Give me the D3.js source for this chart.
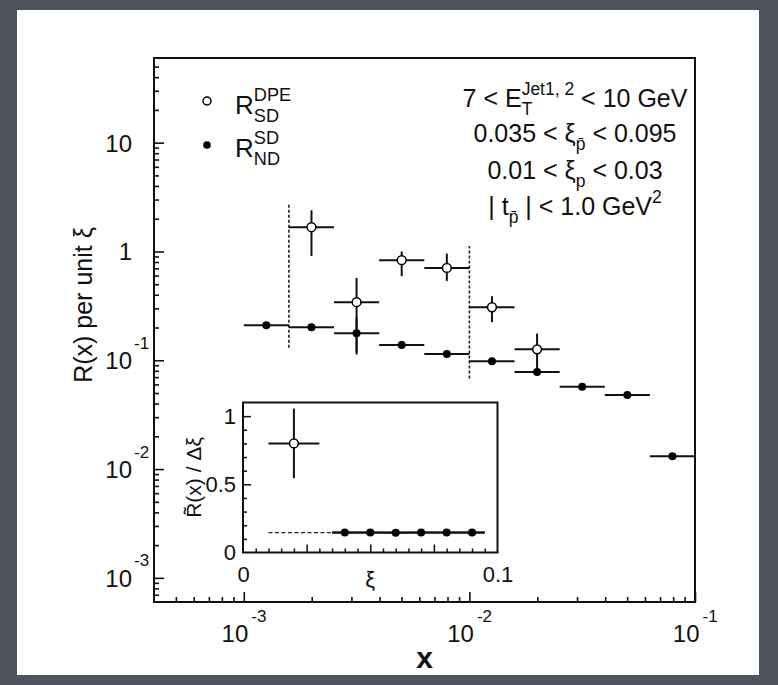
<!DOCTYPE html>
<html>
<head>
<meta charset="utf-8">
<script src="https://cdn.jsdelivr.net/npm/d3@7"></script>
<style>
  body { margin: 0; background: #4e535d; }
  svg text { font-family: "Liberation Sans", Arial, Helvetica, sans-serif; fill: #111; white-space: pre; }
</style>
</head>
<body>
<svg id="chart"></svg>
<script>
// ---- Data ----
// x bins, log-spaced (0.2 decade each)
const xEdges = [0.001, 0.001585, 0.002512, 0.003981, 0.00631, 0.01, 0.01585, 0.02512, 0.03981, 0.0631, 0.1];

// R_ND^SD, one value per bin
const ndValues = [0.210, 0.201, 0.177, 0.138, 0.114, 0.098, 0.078, 0.057, 0.048, 0.0131];
const ndLow    = [null, null, 0.113, null, null, null, null, null, null, null];
const ndHigh   = [null, null, 0.245, null, null, null, null, null, null, null];

// R_SD^DPE, bins 1..6
const dpeBins   = [1, 2, 3, 4, 5, 6];
const dpeValues = [1.67, 0.342, 0.832, 0.706, 0.307, 0.126];
const dpeLow    = [0.91, 0.12, 0.593, 0.536, 0.224, 0.077];
const dpeHigh   = [2.39, 0.571, 1.0, 0.957, 0.388, 0.176];

// dashed verticals marking the xi range
const dashX    = [0.001585, 0.01];
const dashLow  = [0.13, 0.068];
const dashHigh = [2.8, 1.12];

// inset: R~(x) / delta xi vs xi
const insetOpenX = [0.02], insetOpenY = [0.80], insetOpenLow = [0.545], insetOpenHigh = [1.055];
const insetFilledX = [0.04, 0.05, 0.06, 0.07, 0.08, 0.09];
const insetFilledY = [0.146, 0.146, 0.145, 0.146, 0.146, 0.146];
const insetFit = 0.146;
const insetFitDashed = [0.01, 0.035];
const insetFitSolid = [0.035, 0.095];

// tick labels
const xMajor = [0.001, 0.01, 0.1];
const xMajorLabels = [["10", "-3"], ["10", "-2"], ["10", "-1"]];
const yMajor = [10, 1, 0.1, 0.01, 0.001];
const yMajorLabels = [["10", ""], ["1", ""], ["10", "-1"], ["10", "-2"], ["10", "-3"]];

// ---- Layout ----
const width = 778, height = 685;
const frame = { left: 154, right: 695, top: 58, bottom: 602 };
const inset = { left: 243, right: 497.5, top: 402.5, bottom: 552.5 };

const svg = d3.select("#chart")
    .attr("width", width)
    .attr("height", height);

svg.append("rect").attr("width", width).attr("height", height).attr("fill", "#4e535d");
svg.append("rect")
    .attr("x", 17).attr("y", 10)
    .attr("width", 742).attr("height", 665)
    .attr("fill", "white");

const xScale = d3.scaleLog().domain([4e-4, 0.1]).range([frame.left, frame.right]);
const yScale = d3.scaleLog().domain([6e-4, 60]).range([frame.bottom, frame.top]);

// minor log ticks (2..9 in every decade)
function minorTicks(lo, hi) {
    const out = [];
    for (let e = -5; e <= 2; e++) {
        for (let m = 2; m <= 9; m++) {
            const v = m * Math.pow(10, e);
            if (v > lo * 1.0001 && v < hi * 0.9999) out.push(v);
        }
    }
    return out;
}

// ---- Axes ----
const gx = svg.append("g").attr("transform", `translate(0,${frame.bottom})`);
gx.append("g").call(d3.axisBottom(xScale).tickValues(minorTicks(4e-4, 0.1)).tickSize(-5).tickFormat(""));
gx.append("g").attr("class", "xmaj").call(d3.axisBottom(xScale).tickValues(xMajor).tickSize(-10).tickFormat(""));

gx.selectAll(".xmaj .tick").each(function(d, i) {
    const t = d3.select(this);
    t.append("text").attr("x", 4).attr("y", 39.5)
        .attr("text-anchor", "end").style("font-size", "24px")
        .text(xMajorLabels[i][0]);
    t.append("text").attr("x", 7).attr("y", 20)
        .attr("text-anchor", "start").style("font-size", "17px")
        .text(xMajorLabels[i][1]);
});

const gy = svg.append("g").attr("transform", `translate(${frame.left},0)`);
gy.append("g").call(d3.axisLeft(yScale).tickValues(minorTicks(6e-4, 60)).tickSize(-5).tickFormat(""));
gy.append("g").attr("class", "ymaj").call(d3.axisLeft(yScale).tickValues(yMajor).tickSize(-10).tickFormat(""));

gy.selectAll(".ymaj .tick").each(function(d, i) {
    const t = d3.select(this);
    t.append("text").attr("x", -22).attr("y", 8.5)
        .attr("text-anchor", "end").style("font-size", "24px")
        .text(yMajorLabels[i][0]);
    t.append("text").attr("x", -20).attr("y", -12)
        .attr("text-anchor", "start").style("font-size", "17px")
        .text(yMajorLabels[i][1]);
});

svg.selectAll(".domain").remove();
svg.selectAll(".tick line").attr("stroke", "#111").attr("stroke-width", 1.6);

svg.append("rect")
    .attr("x", frame.left).attr("y", frame.top)
    .attr("width", frame.right - frame.left).attr("height", frame.bottom - frame.top)
    .attr("fill", "none").attr("stroke", "#111").attr("stroke-width", 2);

// axis titles
svg.append("text")
    .attr("transform", "translate(92,305) rotate(-90)")
    .attr("text-anchor", "middle")
    .style("font-size", "25px")
    .text("R(x) per unit ξ");

svg.append("text")
    .attr("x", (frame.left + frame.right) / 2).attr("y", 668)
    .attr("text-anchor", "middle")
    .style("font-size", "30px").style("font-weight", "bold")
    .text("x");

// ---- Dashed bounds ----
svg.selectAll(".bound")
    .data(dashX)
    .join("line")
    .attr("class", "bound")
    .attr("x1", d => xScale(d)).attr("x2", d => xScale(d))
    .attr("y1", (d, i) => yScale(dashLow[i])).attr("y2", (d, i) => yScale(dashHigh[i]))
    .attr("stroke", "#222").attr("stroke-width", 1.6)
    .attr("stroke-dasharray", "3,2");

// ---- Points with error bars ----
const ndData = ndValues.map((v, i) => ({
    lo: xEdges[i], hi: xEdges[i + 1], c: Math.sqrt(xEdges[i] * xEdges[i + 1]),
    v, yl: ndLow[i], yh: ndHigh[i]
}));
const dpeData = dpeValues.map((v, i) => {
    const b = dpeBins[i];
    return { lo: xEdges[b], hi: xEdges[b + 1], c: Math.sqrt(xEdges[b] * xEdges[b + 1]),
             v, yl: dpeLow[i], yh: dpeHigh[i] };
});

function drawErrors(g, data, xs, ys) {
    g.selectAll(null).data(data).join("line")
        .attr("x1", d => xs(d.lo)).attr("x2", d => xs(d.hi))
        .attr("y1", d => ys(d.v)).attr("y2", d => ys(d.v))
        .attr("stroke", "#111").attr("stroke-width", 2);
    g.selectAll(null).data(data.filter(d => d.yl != null)).join("line")
        .attr("x1", d => xs(d.c)).attr("x2", d => xs(d.c))
        .attr("y1", d => ys(d.yl)).attr("y2", d => ys(d.yh))
        .attr("stroke", "#111").attr("stroke-width", 2);
}

const main = svg.append("g");
drawErrors(main, ndData, xScale, yScale);
drawErrors(main, dpeData, xScale, yScale);

main.selectAll(".nd").data(ndData).join("circle")
    .attr("class", "nd")
    .attr("cx", d => xScale(d.c)).attr("cy", d => yScale(d.v))
    .attr("r", 4).attr("fill", "#000");

main.selectAll(".dpe").data(dpeData).join("circle")
    .attr("class", "dpe")
    .attr("cx", d => xScale(d.c)).attr("cy", d => yScale(d.v))
    .attr("r", 4.4).attr("fill", "white").attr("stroke", "#000").attr("stroke-width", 1.5);

// ---- Rich text helper (sub / superscripts) ----
function richText(x, y, parts, size, anchor) {
    const grp = svg.append("g");
    let cx = 0;
    parts.forEach(p => {
        if (p.t !== undefined) {
            const el = grp.append("text").attr("x", cx).attr("y", 0)
                .style("font-size", size + "px").text(p.t);
            cx += el.node().getComputedTextLength();
        } else {
            let w = 0;
            if (p.sup) {
                const el = grp.append("text").attr("x", cx).attr("y", -size * 0.5)
                    .style("font-size", (size * 0.7) + "px").text(p.sup);
                w = Math.max(w, el.node().getComputedTextLength());
            }
            if (p.sub) {
                const el = grp.append("text").attr("x", cx).attr("y", size * 0.3)
                    .style("font-size", (size * 0.7) + "px").text(p.sub);
                w = Math.max(w, el.node().getComputedTextLength());
            }
            cx += w;
        }
    });
    const shift = anchor === "middle" ? -cx / 2 : anchor === "end" ? -cx : 0;
    grp.attr("transform", `translate(${x + shift},${y})`);
}

// ---- Legend ----
svg.append("circle").attr("cx", 207).attr("cy", 101).attr("r", 4)
    .attr("fill", "white").attr("stroke", "#000").attr("stroke-width", 1.5);
svg.append("circle").attr("cx", 207).attr("cy", 145).attr("r", 3.8).attr("fill", "#000");
richText(235, 114, [{ t: "R" }, { sup: "DPE", sub: "SD" }], 26, "start");
richText(235, 157, [{ t: "R" }, { sup: "SD", sub: "ND" }], 26, "start");

// ---- Cuts text ----
const cx0 = 575;
richText(cx0, 107, [{ t: "7 < E" }, { sup: "Jet1, 2", sub: "T" }, { t: " < 10 GeV" }], 25, "middle");
richText(cx0, 142, [{ t: "0.035 < ξ" }, { sub: "p\u0304" }, { t: " < 0.095" }], 25, "middle");
richText(cx0, 179, [{ t: "0.01 < ξ" }, { sub: "p" }, { t: " < 0.03" }], 25, "middle");
richText(cx0, 215, [{ t: "| t" }, { sub: "p\u0304" }, { t: " | < 1.0 GeV" }, { sup: "2" }], 25, "middle");

// ---- Inset ----
const ix = d3.scaleLinear().domain([0, 0.1]).range([inset.left, inset.right]);
const iy = d3.scaleLinear().domain([0, 1.1]).range([inset.bottom, inset.top]);

const ins = svg.append("g");
ins.append("rect")
    .attr("x", inset.left).attr("y", inset.top)
    .attr("width", inset.right - inset.left).attr("height", inset.bottom - inset.top)
    .attr("fill", "white");

const ixMinor = d3.range(0.005, 0.1, 0.005).filter(v => Math.abs(v / 0.025 - Math.round(v / 0.025)) > 1e-6);
const ixMajor = [0.025, 0.05, 0.075];
const iyMinor = d3.range(0.1, 1.1, 0.1).filter(v => Math.abs(v - 0.5) > 1e-6 && Math.abs(v - 1) > 1e-6);
const iyMajor = [0.5, 1];

const igx = ins.append("g").attr("transform", `translate(0,${inset.bottom})`);
igx.append("g").call(d3.axisBottom(ix).tickValues(ixMinor).tickSize(-4).tickFormat(""));
igx.append("g").call(d3.axisBottom(ix).tickValues(ixMajor).tickSize(-8).tickFormat(""));
igx.append("g").call(d3.axisBottom(ix).tickValues([0, 0.1]).tickSize(0).tickPadding(14)
    .tickFormat(d => d === 0 ? "0" : "0.1"));

const igy = ins.append("g").attr("transform", `translate(${inset.left},0)`);
igy.append("g").call(d3.axisLeft(iy).tickValues(iyMinor).tickSize(-4).tickFormat(""));
igy.append("g").call(d3.axisLeft(iy).tickValues(iyMajor).tickSize(-8).tickFormat(""));
igy.append("g").call(d3.axisLeft(iy).tickValues([0, 0.5, 1]).tickSize(0).tickPadding(7)
    .tickFormat(d => d === 0 ? "0" : d === 0.5 ? "0.5" : "1"));

ins.selectAll(".domain").remove();
ins.selectAll(".tick line").attr("stroke", "#111").attr("stroke-width", 1.5);
ins.selectAll(".tick text")
    .style("font-size", "22px").style("font-family", "'Liberation Sans', Arial, sans-serif")
    .attr("fill", "#111");

ins.append("rect")
    .attr("x", inset.left).attr("y", inset.top)
    .attr("width", inset.right - inset.left).attr("height", inset.bottom - inset.top)
    .attr("fill", "none").attr("stroke", "#111").attr("stroke-width", 2);

// fit line
ins.append("line")
    .attr("x1", ix(insetFitDashed[0])).attr("x2", ix(insetFitDashed[1]))
    .attr("y1", iy(insetFit)).attr("y2", iy(insetFit))
    .attr("stroke", "#222").attr("stroke-width", 1.4).attr("stroke-dasharray", "4,2.5");
ins.append("line")
    .attr("x1", ix(insetFitSolid[0])).attr("x2", ix(insetFitSolid[1]))
    .attr("y1", iy(insetFit)).attr("y2", iy(insetFit))
    .attr("stroke", "#111").attr("stroke-width", 2);

const insOpen = insetOpenX.map((x, i) => ({ lo: x - 0.01, hi: x + 0.01, c: x, v: insetOpenY[i], yl: insetOpenLow[i], yh: insetOpenHigh[i] }));
const insFilled = insetFilledX.map((x, i) => ({ lo: x - 0.005, hi: x + 0.005, c: x, v: insetFilledY[i], yl: null, yh: null }));
drawErrors(ins, insOpen, ix, iy);
drawErrors(ins, insFilled, ix, iy);

ins.selectAll(".ifill").data(insFilled).join("circle")
    .attr("class", "ifill")
    .attr("cx", d => ix(d.c)).attr("cy", d => iy(d.v))
    .attr("r", 4).attr("fill", "#000");
ins.selectAll(".iopen").data(insOpen).join("circle")
    .attr("class", "iopen")
    .attr("cx", d => ix(d.c)).attr("cy", d => iy(d.v))
    .attr("r", 4.4).attr("fill", "white").attr("stroke", "#000").attr("stroke-width", 1.5);

// inset titles
svg.append("text")
    .attr("x", (inset.left + inset.right) / 2).attr("y", 587)
    .attr("text-anchor", "middle").style("font-size", "22px")
    .text("ξ");
svg.append("text")
    .attr("transform", `translate(201,${(inset.top + inset.bottom) / 2}) rotate(-90)`)
    .attr("text-anchor", "middle").style("font-size", "21px")
    .text("R\u0303(x) / Δξ");
</script>
</body>
</html>
